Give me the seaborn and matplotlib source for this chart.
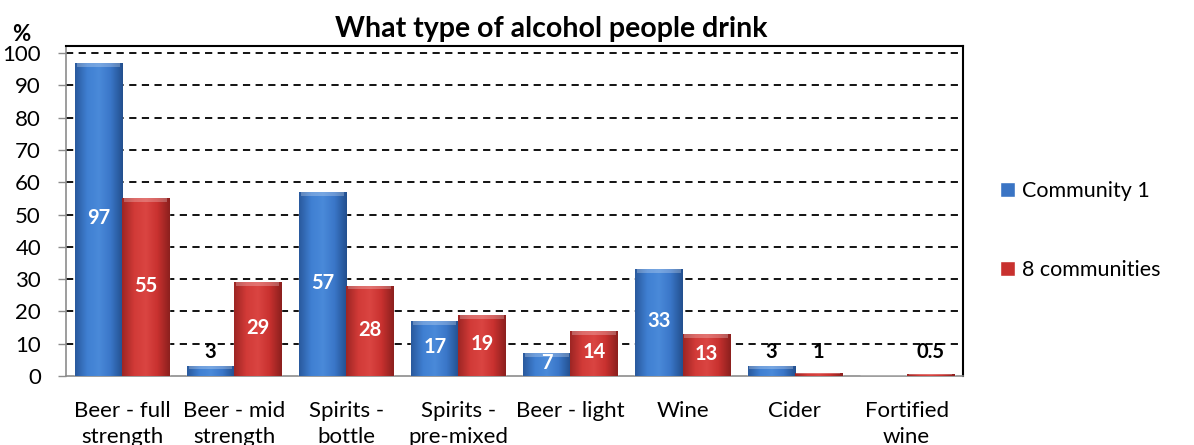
import numpy as np
import pandas as pd
import matplotlib
matplotlib.use("Agg")
import matplotlib.pyplot as plt
from matplotlib.colors import LinearSegmentedColormap
import seaborn as sns

categories = ["Beer - full\nstrength", "Beer - mid\nstrength", "Spirits -\nbottle",
              "Spirits -\npre-mixed", "Beer - light", "Wine", "Cider", "Fortified\nwine"]
community_1 = [97, 3, 57, 17, 7, 33, 3, 0]
eight_communities = [55, 29, 28, 19, 14, 13, 1, 0.5]
series_names = ["Community 1", "8 communities"]
y_ticks = list(range(0, 101, 10))

sns.set_theme(style="white")
plt.rcParams["font.family"] = ["Lato", "DejaVu Sans"]
plt.rcParams["text.color"] = "black"
plt.rcParams["xtick.labelcolor"] = "black"
plt.rcParams["ytick.labelcolor"] = "black"

df = pd.DataFrame({
    "category": categories * 2,
    "value": community_1 + eight_communities,
    "series": [series_names[0]] * len(categories) + [series_names[1]] * len(categories),
})

base_colors = {series_names[0]: "#3a74c4", series_names[1]: "#c8312f"}
grad = {
    series_names[0]: LinearSegmentedColormap.from_list(
        "b", ["#2a5a9e", "#3f7fd2", "#4a8ad9", "#3a76c8", "#23508f"]),
    series_names[1]: LinearSegmentedColormap.from_list(
        "r", ["#9e2624", "#d13a37", "#da4542", "#c8312f", "#8c201e"]),
}

fig = plt.figure(figsize=(11.94, 4.45), dpi=100)
ax = fig.add_axes([0.0553, 0.155, 0.751, 0.7416])

sns.barplot(data=df, x="category", y="value", hue="series", order=categories,
            hue_order=series_names, palette=base_colors, width=0.84, gap=0,
            saturation=1, ax=ax, legend=True, zorder=3)

ax.set_ylim(0, 102.2)
ax.set_xlim(-0.5, len(categories) - 0.5)

# shaded bar faces
row = np.linspace(0, 1, 64).reshape(1, -1)
for container, name in zip(ax.containers, series_names):
    for patch in container:
        x0, y0 = patch.get_x(), patch.get_y()
        w, h = patch.get_width(), patch.get_height()
        if h <= 0:
            continue
        im = ax.imshow(row, extent=(x0, x0 + w, y0, y0 + h), cmap=grad[name],
                       aspect="auto", zorder=3.5, interpolation="bilinear")
        im.set_clip_path(patch)
        cap = min(1.2, h * 0.3)
        ax.fill_between([x0 + w * 0.04, x0 + w * 0.96], y0 + h - cap, y0 + h,
                        color="white", alpha=0.25, lw=0, zorder=3.6)
    ax.set_xlim(-0.5, len(categories) - 0.5)

# value labels
for container, vals in zip(ax.containers, [community_1, eight_communities]):
    for patch, v in zip(container, vals):
        if v == 0:
            continue
        cx = patch.get_x() + patch.get_width() / 2
        txt = f"{v:g}"
        if v >= 5:
            ax.text(cx, v / 2 + 0.4, txt, ha="center", va="center", color="white",
                    fontsize=14.5, fontweight="bold", zorder=5)
        else:
            ax.text(cx, 7.4, txt, ha="center", va="center", color="black",
                    fontsize=14.5, fontweight="bold", zorder=5)

# grid and frame
ax.set_yticks(y_ticks)
ax.set_yticklabels([str(t) for t in y_ticks], fontsize=16)
for t in y_ticks[1:]:
    ax.axhline(t, color="black", lw=1.3, ls=(0, (4, 3)), zorder=1)
ax.set_xticks(range(len(categories)))
ax.set_xticklabels(categories, fontsize=16, linespacing=1.35)
ax.set_xticks(np.arange(-0.5, len(categories), 1), minor=True)
ax.tick_params(axis="x", which="major", length=0, pad=18)
ax.tick_params(axis="x", which="minor", length=6, color="#8c8c8c", width=1)
ax.tick_params(axis="y", length=6, color="#8c8c8c", width=1, pad=12, left=True)
for s in ["left", "bottom"]:
    ax.spines[s].set_color("#8c8c8c")
    ax.spines[s].set_linewidth(1.2)
for s in ["top", "right"]:
    ax.spines[s].set_color("black")
    ax.spines[s].set_linewidth(1.5)
ax.set_xlabel("")
ax.set_ylabel("")

ax.text(-0.06, 1.035, "%", transform=ax.transAxes, fontsize=16, fontweight="bold",
        ha="left", va="center")
fig.text(0.4615, 0.935, "What type of alcohol people drink", fontsize=20.5,
         fontweight="bold", ha="center", va="center")

handles, labels = ax.get_legend_handles_labels()
ax.legend(handles, labels, loc="center left", bbox_to_anchor=(1.02, 0.44),
          frameon=False, fontsize=15.5, handlelength=0.7, handleheight=0.7,
          handletextpad=0.3, labelspacing=2.75)

fig.savefig("out.png", dpi=100)
